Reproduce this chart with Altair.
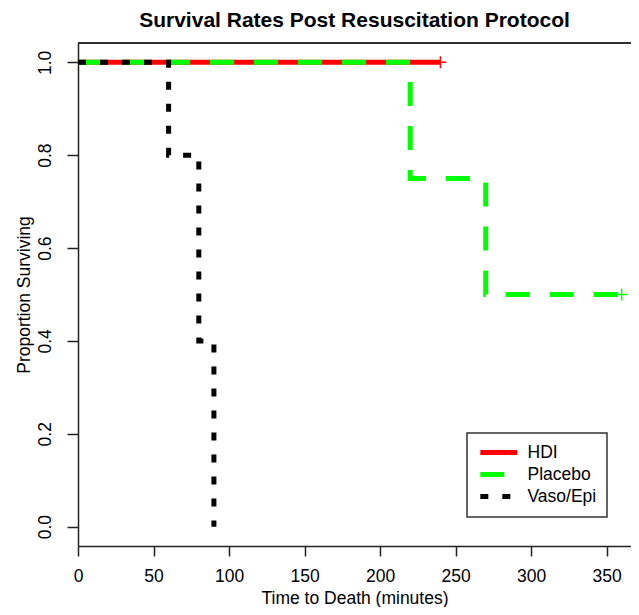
import altair as alt
import pandas as pd

# Kaplan-Meier step data (time in minutes, proportion surviving)
hdi_time = [0, 240]
hdi_surv = [1.0, 1.0]
placebo_time = [0, 220, 270, 360]
placebo_surv = [1.0, 0.75, 0.5, 0.5]
vaso_time = [0, 60, 80, 90]
vaso_surv = [1.0, 0.8, 0.4, 0.0]

groups = ["HDI", "Placebo", "Vaso/Epi"]
colors = ["#ff0000", "#00ff00", "#000000"]
dashes = [[1, 0], [24, 20], [8, 14]]

# censored observations
cens_group = ["HDI", "Placebo"]
cens_time = [240, 360]
cens_surv = [1.0, 0.5]
cens_color = ["#ff0000", "#00ff00"]

x_ticks = [0, 50, 100, 150, 200, 250, 300, 350]
y_ticks = [0.0, 0.2, 0.4, 0.6, 0.8, 1.0]

rows = []
for order, (g, ts, ss) in enumerate(zip(groups,
                                        [hdi_time, placebo_time, vaso_time],
                                        [hdi_surv, placebo_surv, vaso_surv])):
    for i, (t, s) in enumerate(zip(ts, ss)):
        rows.append({"group": g, "time": t, "surv": s, "ord": order, "i": i})
df = pd.DataFrame(rows)

cens = pd.DataFrame({"group": cens_group, "time": cens_time,
                     "surv": cens_surv, "col": cens_color})

FONT = "Liberation Sans"
FS = 17.5
W, H = 553, 503

xscale = alt.Scale(domain=[0, 366.2], nice=False, zero=False)
yscale = alt.Scale(domain=[-0.0416, 1.0416], nice=False, zero=False)

xaxis = alt.Axis(values=x_ticks, title="Time to Death (minutes)", grid=False,
                 tickSize=10, labelPadding=11, labelFontSize=FS, titleFontSize=FS,
                 titleFontWeight="normal", titleY=57, titleX=(259 + 450) / 2 - 78,
                 titleBaseline="alphabetic", titleAlign="center",
                 labelFlush=False, labelOverlap=False)
yaxis = alt.Axis(values=y_ticks, format=".1f", title="Proportion Surviving", grid=False,
                 tickSize=11, labelAngle=-90, labelAlign="center", labelBaseline="bottom",
                 labelPadding=13, labelFontSize=FS, titleFontSize=FS,
                 titleFontWeight="normal", titleX=-45, titleY=H / 2,
                 titleBaseline="bottom", titleAlign="center", titleAngle=-90,
                 labelFlush=False, labelOverlap=False)

lines = alt.Chart(df).mark_line(interpolate="step-after", strokeWidth=5,
                                clip=True, strokeCap="butt").encode(
    x=alt.X("time:Q", scale=xscale, axis=xaxis),
    y=alt.Y("surv:Q", scale=yscale, axis=yaxis),
    color=alt.Color("group:N", scale=alt.Scale(domain=groups, range=colors),
                    legend=alt.Legend(title=None)),
    strokeDash=alt.StrokeDash("group:N", scale=alt.Scale(domain=groups, range=dashes),
                              legend=alt.Legend(title=None)),
    order=alt.Order("i:Q"),
)

plus = alt.Chart(cens).mark_point(shape="M-1,0L1,0M0,-1L0,1", size=144,
                                  filled=False, strokeWidth=1.5, opacity=1).encode(
    x=alt.X("time:Q", scale=xscale),
    y=alt.Y("surv:Q", scale=yscale),
    color=alt.Color("col:N", scale=None),
)

top_rule = alt.Chart(cens).mark_rule(color="#222222", strokeWidth=1.5).encode(
    x=alt.value(0), x2=alt.value(W), y=alt.value(0)
)

chart = alt.layer(lines, plus, top_rule).properties(
    width=W, height=H,
    title=alt.Title("Survival Rates Post Resuscitation Protocol", fontSize=21,
                    fontWeight="bold", font=FONT, offset=11, color="black"),
    autosize=alt.AutoSizeParams(type="none"),
    padding={"left": 70, "top": 35, "right": 0, "bottom": 61},
).configure_view(stroke=None).configure_axis(
    labelFont=FONT, titleFont=FONT, labelColor="black", titleColor="black",
    domainColor="#222222", domainWidth=1.5, tickColor="#222222", tickWidth=1.5,
).configure_legend(
    orient="none", legendX=389, legendY=390, strokeColor="#333333",
    strokeWidth=1.5, padding=10.5, symbolType="M-1,0L5,0", symbolStrokeWidth=5,
    symbolSize=152, labelFont=FONT, labelFontSize=FS, labelColor="black",
    rowPadding=2, labelOffset=32, symbolOpacity=1,
)

chart.save("out.html", embed_options={"renderer": "svg", "actions": False})
